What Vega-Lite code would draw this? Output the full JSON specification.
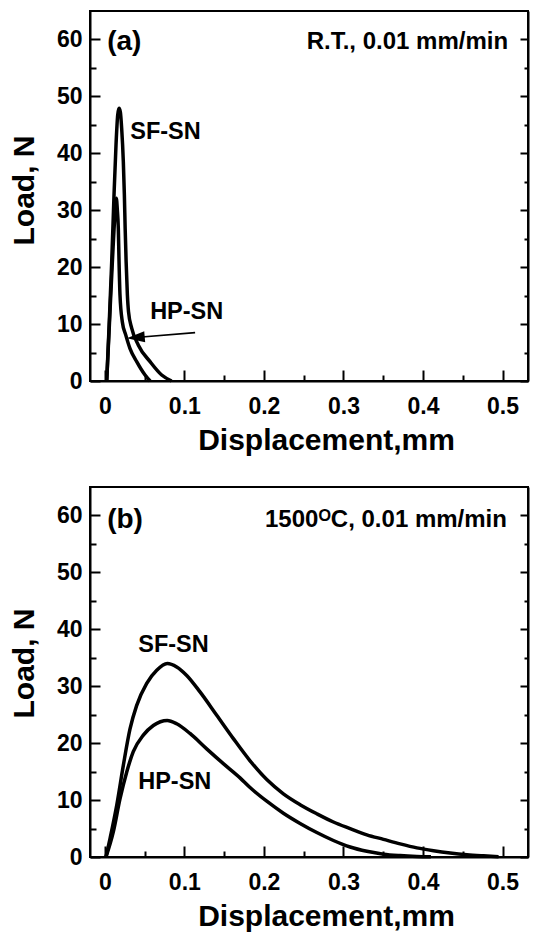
{
  "$schema": "https://vega.github.io/schema/vega-lite/v6.json",
  "padding": {"left": 8, "top": 10, "right": 0, "bottom": 0},
  "background": "white",
  "spacing": 30,
  "config": {
    "view": {"stroke": "black", "strokeWidth": 2},
    "axis": {
      "domainColor": "black", "domainWidth": 2, "tickColor": "black", "tickWidth": 2, "grid": false,
      "labelFont": "Liberation Sans", "labelFontWeight": "bold", "labelFontSize": 23, "labelColor": "black",
      "titleFont": "Liberation Sans", "titleFontWeight": "bold", "titleFontSize": 30, "titleColor": "black"
    },
    "text": {"font": "Liberation Sans", "fontWeight": "bold", "color": "black"}
  },
  "datasets": {
    "curvesA": [
      {"series": "SF-SN", "x": 0.0024, "y": 0},
      {"series": "SF-SN", "x": 0.0053, "y": 9.3},
      {"series": "SF-SN", "x": 0.0087, "y": 21.0},
      {"series": "SF-SN", "x": 0.0116, "y": 32.7},
      {"series": "SF-SN", "x": 0.0141, "y": 41.5},
      {"series": "SF-SN", "x": 0.0162, "y": 46.7},
      {"series": "SF-SN", "x": 0.0179, "y": 47.9},
      {"series": "SF-SN", "x": 0.0196, "y": 47.2},
      {"series": "SF-SN", "x": 0.0212, "y": 44.4},
      {"series": "SF-SN", "x": 0.0233, "y": 38.5},
      {"series": "SF-SN", "x": 0.0246, "y": 32.7},
      {"series": "SF-SN", "x": 0.0256, "y": 26.8},
      {"series": "SF-SN", "x": 0.0268, "y": 21.0},
      {"series": "SF-SN", "x": 0.0284, "y": 15.1},
      {"series": "SF-SN", "x": 0.0298, "y": 12.2},
      {"series": "SF-SN", "x": 0.0338, "y": 9.3},
      {"series": "SF-SN", "x": 0.0422, "y": 6.3},
      {"series": "SF-SN", "x": 0.0569, "y": 3.4},
      {"series": "SF-SN", "x": 0.0715, "y": 1.05},
      {"series": "SF-SN", "x": 0.084, "y": 0},
      {"series": "HP-SN", "x": 0.0024, "y": 0},
      {"series": "HP-SN", "x": 0.0058, "y": 10.0},
      {"series": "HP-SN", "x": 0.0092, "y": 20.0},
      {"series": "HP-SN", "x": 0.0122, "y": 28.0},
      {"series": "HP-SN", "x": 0.0145, "y": 32.1},
      {"series": "HP-SN", "x": 0.0158, "y": 30.0},
      {"series": "HP-SN", "x": 0.017, "y": 26.8},
      {"series": "HP-SN", "x": 0.0179, "y": 21.0},
      {"series": "HP-SN", "x": 0.0191, "y": 15.1},
      {"series": "HP-SN", "x": 0.022, "y": 10.4},
      {"series": "HP-SN", "x": 0.0263, "y": 8.1},
      {"series": "HP-SN", "x": 0.0317, "y": 5.7},
      {"series": "HP-SN", "x": 0.0401, "y": 3.4},
      {"series": "HP-SN", "x": 0.0506, "y": 1.05},
      {"series": "HP-SN", "x": 0.057, "y": 0}
    ],
    "curvesB": [
      {"series": "SF-SN", "x": 0.0015, "y": 0},
      {"series": "SF-SN", "x": 0.0065, "y": 3.2},
      {"series": "SF-SN", "x": 0.015, "y": 9.1},
      {"series": "SF-SN", "x": 0.0233, "y": 16.1},
      {"series": "SF-SN", "x": 0.0317, "y": 22.5},
      {"series": "SF-SN", "x": 0.040, "y": 26.6},
      {"series": "SF-SN", "x": 0.0527, "y": 30.5},
      {"series": "SF-SN", "x": 0.0653, "y": 32.8},
      {"series": "SF-SN", "x": 0.0785, "y": 34.0},
      {"series": "SF-SN", "x": 0.0904, "y": 33.4},
      {"series": "SF-SN", "x": 0.103, "y": 31.9},
      {"series": "SF-SN", "x": 0.1197, "y": 29.0},
      {"series": "SF-SN", "x": 0.1407, "y": 24.9},
      {"series": "SF-SN", "x": 0.1616, "y": 20.8},
      {"series": "SF-SN", "x": 0.1826, "y": 16.9},
      {"series": "SF-SN", "x": 0.2036, "y": 13.6},
      {"series": "SF-SN", "x": 0.2245, "y": 11.1},
      {"series": "SF-SN", "x": 0.2455, "y": 9.2},
      {"series": "SF-SN", "x": 0.2665, "y": 7.6},
      {"series": "SF-SN", "x": 0.2874, "y": 6.15},
      {"series": "SF-SN", "x": 0.3084, "y": 5.0},
      {"series": "SF-SN", "x": 0.3294, "y": 3.9},
      {"series": "SF-SN", "x": 0.3503, "y": 3.1},
      {"series": "SF-SN", "x": 0.3713, "y": 2.3},
      {"series": "SF-SN", "x": 0.3923, "y": 1.6},
      {"series": "SF-SN", "x": 0.4132, "y": 1.1},
      {"series": "SF-SN", "x": 0.4342, "y": 0.7},
      {"series": "SF-SN", "x": 0.4552, "y": 0.4},
      {"series": "SF-SN", "x": 0.4761, "y": 0.2},
      {"series": "SF-SN", "x": 0.495, "y": 0.05},
      {"series": "HP-SN", "x": 0.0015, "y": 0},
      {"series": "HP-SN", "x": 0.0107, "y": 4.4},
      {"series": "HP-SN", "x": 0.0191, "y": 10.2},
      {"series": "HP-SN", "x": 0.0275, "y": 14.9},
      {"series": "HP-SN", "x": 0.0358, "y": 18.5},
      {"series": "HP-SN", "x": 0.0484, "y": 21.4},
      {"series": "HP-SN", "x": 0.061, "y": 23.1},
      {"series": "HP-SN", "x": 0.0785, "y": 24.0},
      {"series": "HP-SN", "x": 0.0904, "y": 23.4},
      {"series": "HP-SN", "x": 0.1071, "y": 21.7},
      {"series": "HP-SN", "x": 0.1281, "y": 19.0},
      {"series": "HP-SN", "x": 0.149, "y": 16.4},
      {"series": "HP-SN", "x": 0.17, "y": 13.9},
      {"series": "HP-SN", "x": 0.1826, "y": 12.2},
      {"series": "HP-SN", "x": 0.2036, "y": 9.8},
      {"series": "HP-SN", "x": 0.2245, "y": 7.7},
      {"series": "HP-SN", "x": 0.2455, "y": 5.9},
      {"series": "HP-SN", "x": 0.2665, "y": 4.3},
      {"series": "HP-SN", "x": 0.2874, "y": 2.9},
      {"series": "HP-SN", "x": 0.3084, "y": 1.75},
      {"series": "HP-SN", "x": 0.3294, "y": 1.0},
      {"series": "HP-SN", "x": 0.3503, "y": 0.5},
      {"series": "HP-SN", "x": 0.3713, "y": 0.25},
      {"series": "HP-SN", "x": 0.3923, "y": 0.1},
      {"series": "HP-SN", "x": 0.41, "y": 0.03}
    ],
    "notesA": [
      {"role": "panel", "x": 0.003, "y": 59.6, "text": "(a)"},
      {"role": "condition", "x": 0.507, "y": 59.6, "text": "R.T., 0.01 mm/min"},
      {"role": "series", "x": 0.032, "y": 43.8, "text": "SF-SN"},
      {"role": "series", "x": 0.057, "y": 12.2, "text": "HP-SN"}
    ],
    "notesB": [
      {"role": "panel", "x": 0.003, "y": 59.2, "text": "(b)"},
      {"role": "condition", "x": 0.5055, "y": 59.2, "text": "1500ᴼC, 0.01 mm/min"},
      {"role": "series", "x": 0.042, "y": 37.3, "text": "SF-SN"},
      {"role": "series", "x": 0.042, "y": 13.2, "text": "HP-SN"}
    ],
    "arrowA": [
      {"x": 0.1135, "y": 8.5, "xh": 0.0389, "yh": 7.63}
    ]
  },
  "vconcat": [
    {
      "width": 438,
      "height": 370,
      "resolve": {"axis": {"y": "independent"}},
      "layer": [
        {
          "data": {"name": "curvesA"},
          "mark": {"type": "line", "color": "black", "strokeWidth": 3.5, "interpolate": "monotone"},
          "encoding": {
            "x": {"field": "x", "type": "quantitative", "scale": {"domain": [-0.0186, 0.532], "nice": false, "zero": false},
              "axis": {"title": "Displacement,mm", "values": [0, 0.05, 0.1, 0.15, 0.2, 0.25, 0.3, 0.35, 0.4, 0.45, 0.5],
                "labelExpr": "round(datum.value*100) % 10 === 0 ? (datum.value === 0 ? '0' : format(datum.value, '.1f')) : ''",
                "tickSize": {"condition": {"test": "round(datum.value*100) % 10 === 0", "value": -11}, "value": -6},
                "labelPadding": 25, "titlePadding": 7, "titleX": 236, "labelFlush": false}},
            "y": {"field": "y", "type": "quantitative", "scale": {"domain": [0, 65], "nice": false},
              "axis": {"title": "Load, N", "values": [0, 5, 10, 15, 20, 25, 30, 35, 40, 45, 50, 55, 60],
                "labelExpr": "datum.value % 10 === 0 ? datum.label : ''",
                "tickSize": {"condition": {"test": "datum.value % 10 === 0", "value": -10}, "value": -6},
                "labelPadding": 18, "titlePadding": 17, "titleY": 179}},
            "detail": {"field": "series"}
          }
        },
        {
          "data": {"name": "notesA"},
          "transform": [{"filter": "datum.role === 'series'"}],
          "mark": {"type": "text", "align": "left", "baseline": "middle", "fontSize": 23.5},
          "encoding": {
            "x": {"field": "x", "type": "quantitative"},
            "y": {"field": "y", "type": "quantitative",
              "axis": {"orient": "right", "title": null, "labels": false, "values": [0, 5, 10, 15, 20, 25, 30, 35, 40, 45, 50, 55, 60],
                "tickSize": {"condition": {"test": "datum.value % 10 === 0", "value": -8}, "value": -4}}},
            "text": {"field": "text"}
          }
        },
        {
          "data": {"name": "notesA"},
          "transform": [{"filter": "datum.role === 'panel'"}],
          "mark": {"type": "text", "align": "left", "baseline": "middle", "fontSize": 28},
          "encoding": {
            "x": {"field": "x", "type": "quantitative"},
            "y": {"field": "y", "type": "quantitative", "axis": null},
            "text": {"field": "text"}
          }
        },
        {
          "data": {"name": "notesA"},
          "transform": [{"filter": "datum.role === 'condition'"}],
          "mark": {"type": "text", "align": "right", "baseline": "middle", "fontSize": 24},
          "encoding": {
            "x": {"field": "x", "type": "quantitative"},
            "y": {"field": "y", "type": "quantitative", "axis": null},
            "text": {"field": "text"}
          }
        },
        {
          "data": {"name": "arrowA"},
          "mark": {"type": "rule", "color": "black", "strokeWidth": 1.6},
          "encoding": {
            "x": {"field": "x", "type": "quantitative"},
            "y": {"field": "y", "type": "quantitative", "axis": null},
            "x2": {"field": "xh"},
            "y2": {"field": "yh"}
          }
        },
        {
          "data": {"name": "arrowA"},
          "mark": {"type": "point", "shape": "M -1 0 L 1 -0.62 L 1 0.62 Z", "filled": true, "color": "black", "opacity": 1, "size": 324, "angle": 355},
          "encoding": {
            "x": {"field": "xh", "type": "quantitative"},
            "y": {"field": "yh", "type": "quantitative", "axis": null}
          }
        }
      ]
    },
    {
      "width": 438,
      "height": 370,
      "resolve": {"axis": {"y": "independent"}},
      "layer": [
        {
          "data": {"name": "curvesB"},
          "mark": {"type": "line", "color": "black", "strokeWidth": 3.5, "interpolate": "monotone"},
          "encoding": {
            "x": {"field": "x", "type": "quantitative", "scale": {"domain": [-0.0186, 0.532], "nice": false, "zero": false},
              "axis": {"title": "Displacement,mm", "values": [0, 0.05, 0.1, 0.15, 0.2, 0.25, 0.3, 0.35, 0.4, 0.45, 0.5],
                "labelExpr": "round(datum.value*100) % 10 === 0 ? (datum.value === 0 ? '0' : format(datum.value, '.1f')) : ''",
                "tickSize": {"condition": {"test": "round(datum.value*100) % 10 === 0", "value": -11}, "value": -6},
                "labelPadding": 25, "titlePadding": 7, "titleX": 236, "labelFlush": false}},
            "y": {"field": "y", "type": "quantitative", "scale": {"domain": [0, 65], "nice": false},
              "axis": {"title": "Load, N", "values": [0, 5, 10, 15, 20, 25, 30, 35, 40, 45, 50, 55, 60],
                "labelExpr": "datum.value % 10 === 0 ? datum.label : ''",
                "tickSize": {"condition": {"test": "datum.value % 10 === 0", "value": -10}, "value": -6},
                "labelPadding": 18, "titlePadding": 17, "titleY": 176}},
            "detail": {"field": "series"}
          }
        },
        {
          "data": {"name": "notesB"},
          "transform": [{"filter": "datum.role === 'series'"}],
          "mark": {"type": "text", "align": "left", "baseline": "middle", "fontSize": 23.5},
          "encoding": {
            "x": {"field": "x", "type": "quantitative"},
            "y": {"field": "y", "type": "quantitative",
              "axis": {"orient": "right", "title": null, "labels": false, "values": [0, 5, 10, 15, 20, 25, 30, 35, 40, 45, 50, 55, 60],
                "tickSize": {"condition": {"test": "datum.value % 10 === 0", "value": -8}, "value": -4}}},
            "text": {"field": "text"}
          }
        },
        {
          "data": {"name": "notesB"},
          "transform": [{"filter": "datum.role === 'panel'"}],
          "mark": {"type": "text", "align": "left", "baseline": "middle", "fontSize": 28},
          "encoding": {
            "x": {"field": "x", "type": "quantitative"},
            "y": {"field": "y", "type": "quantitative", "axis": null},
            "text": {"field": "text"}
          }
        },
        {
          "data": {"name": "notesB"},
          "transform": [{"filter": "datum.role === 'condition'"}],
          "mark": {"type": "text", "align": "right", "baseline": "middle", "fontSize": 24},
          "encoding": {
            "x": {"field": "x", "type": "quantitative"},
            "y": {"field": "y", "type": "quantitative", "axis": null},
            "text": {"field": "text"}
          }
        }
      ]
    }
  ]
}
